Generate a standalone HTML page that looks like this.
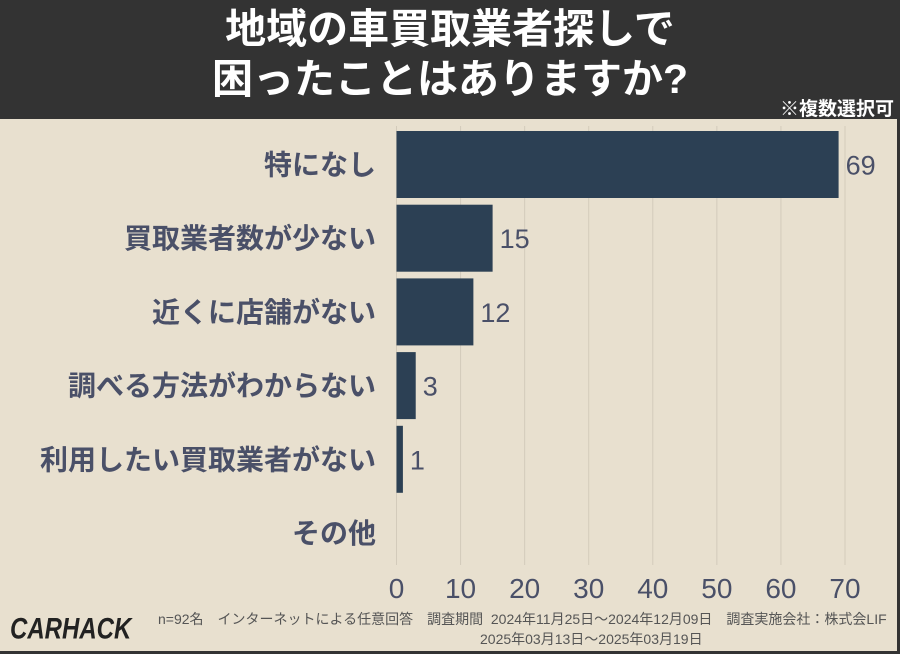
<!DOCTYPE html>
<html><head><meta charset="utf-8"><style>
body{margin:0;width:900px;height:654px;background:#333;overflow:hidden;font-family:"Liberation Sans","Noto Sans CJK JP",sans-serif}
#frame{position:absolute;left:0;top:119px;width:897px;height:532px;background:#e8e0cf}
.t{position:absolute;white-space:nowrap}
</style></head><body>
<div id="frame"></div>
<div class="t" style="left:0;width:900px;top:4px;text-align:center;color:#fff;font-size:41px;font-weight:bold;line-height:50px">地域の車買取業者探しで<br>困ったことはありますか?</div>
<div class="t" style="right:6px;top:94px;color:#fff;font-size:19px;font-weight:bold">※複数選択可</div>
<svg id="chart" width="900" height="654" style="position:absolute;left:0;top:0"></svg>
<div class="t" style="left:10px;top:612px;font-size:24px;font-weight:900;font-style:italic;color:#222;transform:scaleY(1.25);transform-origin:left top">CARHACK</div>
<div class="t" style="left:158px;top:611px;font-size:14px;color:#555;line-height:16px">n=92名　インターネットによる任意回答　調査期間&nbsp; 2024年11月25日〜2024年12月09日　調査実施会社：株式会LIF</div>
<div class="t" style="left:480px;top:629px;font-size:14px;color:#555">2025年03月13日〜2025年03月19日</div>
<script>
const categories=["特になし","買取業者数が少ない","近くに店舗がない","調べる方法がわからない","利用したい買取業者がない","その他"];
const values=[69,15,12,3,1,0];
const ticks=[0,10,20,30,40,50,60,70];
const NS="http://www.w3.org/2000/svg";
const svg=document.getElementById('chart');
const x0=396.5,x1=845,vmax=70,top0=131,pitch=73.7,bh=67;
const xs=v=>x0+(x1-x0)*v/vmax;
const yc=i=>top0+pitch*i+bh/2;
function mk(t,a){const e=document.createElementNS(NS,t);for(const k in a)e.setAttribute(k,a[k]);svg.appendChild(e);return e;}
ticks.forEach((t,i)=>{
 const g=mk('line',{x1:xs(t),x2:xs(t),y1:126,y2:565,stroke:'#d3cbbb','stroke-width':1});
 
 
 const l=mk('text',{x:xs(t),y:598,'text-anchor':'middle','font-size':28,fill:'#4a5068'});
 l.textContent=t;
 
 
});
categories.forEach((c,i)=>{
 const y=yc(i);
 const l=mk('text',{x:376,y:y+10,'text-anchor':'end','font-size':28,'font-weight':'bold',fill:'#4a5068'});
 l.textContent=c;
 
 
 const v=values[i];
 if(v>0){
  const b=mk('rect',{x:x0,y:y-bh/2,width:xs(v)-x0,height:bh,fill:'#2c4054'});
  
  
  const vl=mk('text',{x:xs(v)+7,y:y+10,'font-size':27,fill:'#4a5068'});
  vl.textContent=v;
  
  
 }
});
</script>
</body></html>
